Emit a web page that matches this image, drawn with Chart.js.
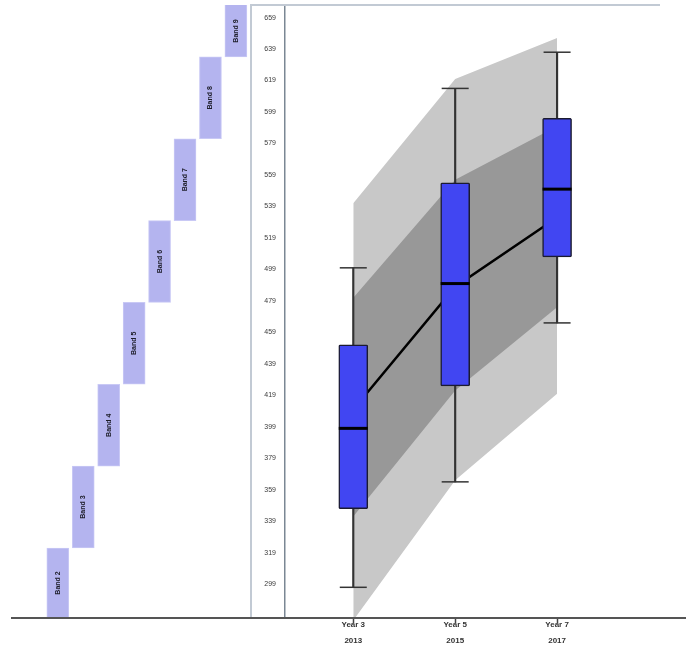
<!DOCTYPE html>
<html>
<head>
<meta charset="utf-8">
<title>NAPLAN growth</title>
<script src="https://cdn.jsdelivr.net/npm/chart.js@4.4.1/dist/chart.umd.min.js"></script>
<style>
    html, body {
        margin: 0;
        padding: 0;
        background: #fff;
    }

    .chart-container {
        position: relative;
        width: 686px;
        height: 647px;
    }
</style>
</head>
<body>
<div class="chart-container">
    <canvas id="chart"></canvas>
</div>
<script>
    // categories
    const yearLabels = ['Year 3', 'Year 5', 'Year 7'];
    const testYears = ['2013', '2015', '2017'];
    const bandNames = ['Band 2', 'Band 3', 'Band 4', 'Band 5', 'Band 6', 'Band 7', 'Band 8', 'Band 9'];

    // NAPLAN band ranges
    const bandLow = [270, 322, 374, 426, 478, 530, 582, 634];
    const bandHigh = [322, 374, 426, 478, 530, 582, 634, 686];

    // box plots, one per year
    const whiskerLow = [297, 364, 465];
    const quartileLow = [347, 425, 507];
    const median = [398, 490, 550];
    const quartileHigh = [451, 554, 595];
    const whiskerHigh = [500, 614, 637];

    // the black line through the boxes
    const meanScore = [410, 488, 532];

    // shaded ranges
    const innerLow = [342, 422, 475];
    const innerHigh = [481, 556, 590];
    const outerLow = [276, 365, 420];
    const outerHigh = [541, 620, 646];

    // tick labels
    const yTicks = [299, 319, 339, 359, 379, 399, 419, 439, 459, 479, 499, 519, 539, 559, 579, 599, 619, 639, 659];

    const points = values => values.map((y, i) => ({x: i, y: y}));
    const ranges = (low, high) => low.map((lo, i) => ({x: i, y: [lo, high[i]]}));

    const bandText = {
        id: 'bandText',
        afterDatasetsDraw(chart) {
            const meta = chart.getDatasetMeta(0);
            const area = chart.chartArea;
            const ctx = chart.ctx;
            ctx.save();
            ctx.font = 'bold 7px "Liberation Sans", Arial, sans-serif';
            ctx.fillStyle = '#1c1c28';
            ctx.textAlign = 'center';
            ctx.textBaseline = 'middle';
            meta.data.forEach((bar, i) => {
                const top = Math.max(bar.y, area.top);
                const bottom = Math.min(bar.base, area.bottom);
                ctx.save();
                ctx.translate(bar.x, (top + bottom) / 2);
                ctx.rotate(-Math.PI / 2);
                ctx.fillText(bandNames[i], 0, 0);
                ctx.restore();
            });
            ctx.restore();
        }
    };

    const frame = {
        id: 'frame',
        afterDraw(chart) {
            const area = chart.chartArea;
            const left = chart.scales.y.left;
            const ctx = chart.ctx;
            ctx.save();
            ctx.strokeStyle = '#c2cad4';
            ctx.lineWidth = 2;
            ctx.beginPath();
            ctx.moveTo(left + 1, area.bottom);
            ctx.lineTo(left + 1, area.top);
            ctx.lineTo(area.right, area.top);
            ctx.stroke();

            ctx.strokeStyle = '#555';
            ctx.lineWidth = 2;
            ctx.beginPath();
            ctx.moveTo(11, area.bottom);
            ctx.lineTo(chart.width, area.bottom);
            ctx.stroke();
            ctx.restore();
        }
    };

    const noPadding = scale => {
        scale.paddingTop = 0;
        scale.paddingBottom = 0;
        scale.paddingLeft = 0;
        scale.paddingRight = 0;
    };

    new Chart(document.getElementById('chart'), {
        type: 'bar',
        data: {
            datasets: [{
                // bands on the left
                type: 'bar',
                xAxisID: 'xBand',
                data: ranges(bandLow, bandHigh),
                backgroundColor: '#b4b4ef',
                borderColor: '#c9c9f5',
                borderWidth: 1,
                borderSkipped: false,
                barThickness: 22,
                grouped: false,
                clip: {left: false, top: 0, right: 0, bottom: 0},
                order: 20
            }, {
                type: 'line',
                data: points(outerHigh),
                backgroundColor: '#c8c8c8',
                borderWidth: 0,
                pointRadius: 0,
                fill: '+1',
                order: 12
            }, {
                type: 'line',
                data: points(outerLow),
                borderWidth: 0,
                pointRadius: 0,
                fill: false,
                order: 12
            }, {
                type: 'line',
                data: points(innerHigh),
                backgroundColor: '#989898',
                borderWidth: 0,
                pointRadius: 0,
                fill: '+1',
                order: 11
            }, {
                type: 'line',
                data: points(innerLow),
                borderWidth: 0,
                pointRadius: 0,
                fill: false,
                order: 11
            }, {
                type: 'line',
                data: points(meanScore),
                borderColor: '#000',
                borderWidth: 2.5,
                pointRadius: 0,
                fill: false,
                order: 10
            }, {
                type: 'bar',
                data: ranges(whiskerLow, whiskerHigh),
                backgroundColor: '#333',
                barThickness: 1.5,
                grouped: false,
                order: 9
            }, {
                type: 'line',
                data: points(whiskerLow),
                showLine: false,
                pointStyle: 'line',
                pointRadius: 13.5,
                pointBorderColor: '#333',
                pointBorderWidth: 1.5,
                order: 9
            }, {
                type: 'line',
                data: points(whiskerHigh),
                showLine: false,
                pointStyle: 'line',
                pointRadius: 13.5,
                pointBorderColor: '#333',
                pointBorderWidth: 1.5,
                order: 9
            }, {
                type: 'bar',
                data: ranges(quartileLow, quartileHigh),
                backgroundColor: '#4146f2',
                borderColor: '#1b1b30',
                borderWidth: 1.5,
                borderSkipped: false,
                borderRadius: 1.5,
                barThickness: 29,
                grouped: false,
                order: 8
            }, {
                type: 'line',
                data: points(median),
                showLine: false,
                pointStyle: 'line',
                pointRadius: 14.5,
                pointBorderColor: '#000',
                pointBorderWidth: 3,
                order: 7
            }]
        },
        options: {
            responsive: true,
            maintainAspectRatio: false,
            animation: false,
            events: [],
            layout: {
                autoPadding: false,
                padding: {left: 250, right: 26, top: 5, bottom: 0}
            },
            plugins: {
                legend: {display: false},
                tooltip: {enabled: false}
            },
            scales: {
                x: {
                    type: 'linear',
                    offset: false,
                    min: -0.67,
                    max: 3.01,
                    afterBuildTicks: scale => {
                        scale.ticks = yearLabels.map((_, i) => ({value: i}));
                    },
                    afterFit: scale => {
                        scale.height = 29;
                        noPadding(scale);
                    },
                    grid: {
                        display: true,
                        offset: false,
                        drawOnChartArea: false,
                        tickLength: 5,
                        tickWidth: 1.5,
                        tickColor: '#444'
                    },
                    border: {display: false},
                    ticks: {
                        autoSkip: false,
                        maxRotation: 0,
                        padding: -6,
                        color: '#333',
                        font: {family: '"Liberation Sans", Arial, sans-serif', size: 8, weight: 'bold', lineHeight: 2},
                        callback: value => [yearLabels[value], testYears[value]]
                    }
                },
                xBand: {
                    type: 'linear',
                    display: false,
                    offset: false,
                    grid: {offset: false},
                    min: 8.93,
                    max: 23.67
                },
                y: {
                    type: 'linear',
                    position: 'left',
                    min: 277.5,
                    max: 667,
                    afterBuildTicks: scale => {
                        scale.ticks = yTicks.map(v => ({value: v}));
                    },
                    afterFit: scale => {
                        scale.width = 35;
                        noPadding(scale);
                    },
                    grid: {display: false, drawTicks: false},
                    border: {display: true, color: '#7b8794', width: 1.5},
                    ticks: {
                        autoSkip: false,
                        padding: 9,
                        color: '#3a3a3a',
                        font: {family: '"Liberation Sans", Arial, sans-serif', size: 7},
                        callback: value => String(value)
                    }
                }
            }
        },
        plugins: [bandText, frame]
    });
</script>
</body>
</html>
